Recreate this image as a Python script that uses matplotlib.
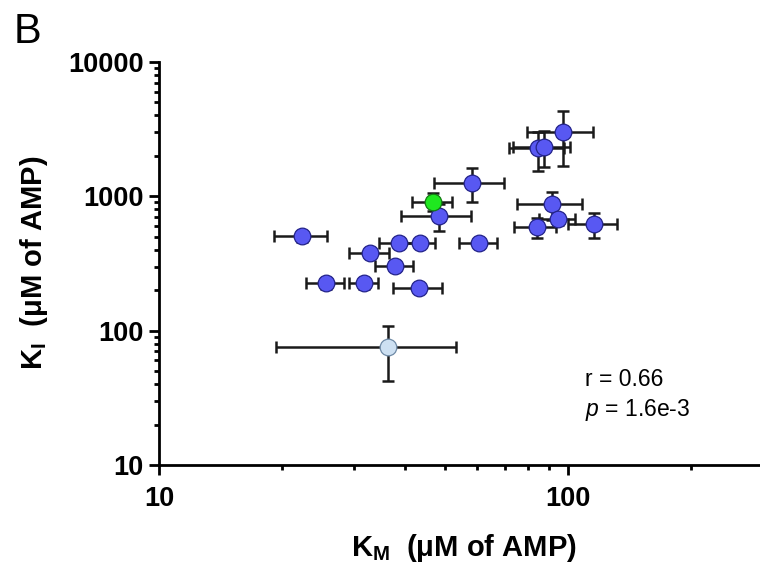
import matplotlib
matplotlib.use("Agg")
import matplotlib.pyplot as plt
from matplotlib.ticker import LogLocator, NullFormatter, FixedLocator, FixedFormatter

plt.rcParams['font.family'] = ['Liberation Sans', 'DejaVu Sans']
plt.rcParams['mathtext.fontset'] = 'custom'
plt.rcParams['mathtext.rm'] = 'Liberation Sans'
plt.rcParams['mathtext.bf'] = 'Liberation Sans:bold'
plt.rcParams['mathtext.it'] = 'Liberation Sans:italic'

# KM (x) and KI (y) with symmetric SD error bars
km = [97.4, 84.6, 87.4, 58.3, 48.4, 22.4, 38.6, 43.5, 60.6, 32.9, 37.8, 25.6,
      31.7, 43.3, 91.6, 94.5, 83.8, 115.8]
km_err = [18.0, 13.0, 14.0, 11.3, 9.4, 3.3, 4.0, 3.7, 6.3, 3.7, 4.1, 2.7,
          2.6, 6.0, 16.6, 9.5, 9.8, 16.0]
ki = [2996, 2277, 2340, 1263, 717, 506, 451, 451, 446, 380, 304, 225,
      225, 208, 871, 675, 591, 622]
ki_err = [1320, 730, 700, 350, 165, 45, 30, 30, 35, 30, 25, 20,
          20, 15, 200, 60, 100, 130]

# highlighted points
green_km, green_km_err, green_ki, green_ki_err = [46.9], [5.3], [912], [140]
pale_km, pale_km_err, pale_ki, pale_ki_err = [36.3], [17.0], [75.5], [33.0]

fig = plt.figure(figsize=(7.6, 5.74), dpi=100)
ax = fig.add_axes([159 / 760, 1 - 465 / 574, 604 / 760, 403 / 574])

eb_kw = dict(fmt='none', ecolor='#1a1a1a', elinewidth=1.8, capsize=4,
             capthick=1.8, zorder=2)
ms = 12

ax.errorbar(km, ki, xerr=km_err, yerr=ki_err, **eb_kw)
ax.plot(km, ki, 'o', ms=ms, mfc='#5858f2', mec='#23238a', mew=0.9, zorder=3)

ax.errorbar(pale_km, pale_ki, xerr=pale_km_err, yerr=pale_ki_err, **eb_kw)
ax.plot(pale_km, pale_ki, 'o', ms=ms, mfc='#cde0f2', mec='#6f8aa6', mew=0.9, zorder=3)

ax.errorbar(green_km, green_ki, xerr=green_km_err, yerr=green_ki_err, **eb_kw)
ax.plot(green_km, green_ki, 'o', ms=ms, mfc='#1fe81f', mec='#137a13', mew=0.9, zorder=4)

ax.set_xscale('log')
ax.set_yscale('log')
ax.set_xlim(10, 300)
ax.set_ylim(10, 10000)

for side in ['top', 'right']:
    ax.spines[side].set_visible(False)
for side in ['left', 'bottom']:
    ax.spines[side].set_linewidth(2.0)
    ax.spines[side].set_capstyle('projecting')

ax.xaxis.set_major_locator(FixedLocator([10, 100]))
ax.xaxis.set_major_formatter(FixedFormatter(['10', '100']))
ax.yaxis.set_major_locator(FixedLocator([10, 100, 1000, 10000]))
ax.yaxis.set_major_formatter(FixedFormatter(['10', '100', '1000', '10000']))
ax.xaxis.set_minor_locator(LogLocator(base=10, subs=range(2, 10)))
ax.yaxis.set_minor_locator(LogLocator(base=10, subs=range(2, 10)))
ax.xaxis.set_minor_formatter(NullFormatter())
ax.yaxis.set_minor_formatter(NullFormatter())

ax.tick_params(which='major', direction='out', length=7, width=2.0,
               labelsize=19.5)
ax.tick_params(axis='x', which='major', pad=8)
ax.tick_params(axis='y', which='major', pad=4)
ax.tick_params(which='minor', direction='out', length=3.5, width=2.0)
for lbl in ax.get_xticklabels() + ax.get_yticklabels():
    lbl.set_fontweight('bold')

fig.text(464 / 760, 1 - 548 / 574, r'$\mathbf{K_M}$  (μM of AMP)',
         ha='center', va='center', fontsize=21, fontweight='bold')
fig.text(34 / 760, 1 - 263 / 574, r'$\mathbf{K_I}$  (μM of AMP)',
         ha='center', va='center', fontsize=21, fontweight='bold', rotation=90)

fig.text(585 / 760, 1 - 380 / 574, 'r = 0.66', ha='left', va='center', fontsize=16.5)
fig.text(585 / 760, 1 - 410 / 574, r'$p$ = 1.6e-3', ha='left', va='center', fontsize=16.5)

fig.text(14 / 760, 1 - 12 / 574, 'B', ha='left', va='top', fontsize=30)

fig.savefig('out.png', dpi=100)
